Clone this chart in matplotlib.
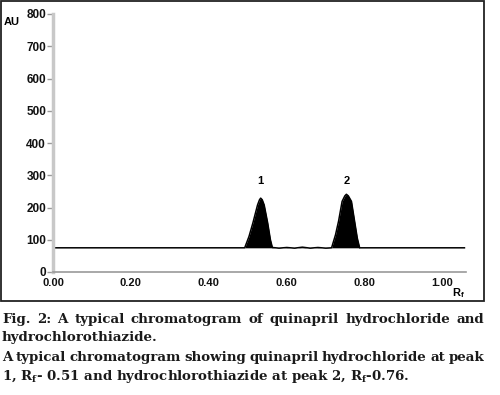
import matplotlib

matplotlib.use("Agg")

import matplotlib.pyplot as plt
from matplotlib.patches import Rectangle

# densitogram trace (Rf, AU)
rf = [0.00, 0.492, 0.503, 0.513, 0.525, 0.530, 0.533, 0.537, 0.542, 0.551, 0.558, 0.563,
      0.58, 0.60, 0.62, 0.64, 0.66, 0.68, 0.70,
      0.715, 0.725, 0.733, 0.742, 0.749, 0.753, 0.758, 0.766, 0.774, 0.781, 0.787,
      1.056]
au = [75, 75, 110, 152, 208, 224, 229, 224, 208, 152, 100, 76,
      74, 76, 74, 77, 74, 76, 74,
      75, 115, 158, 219, 236, 241, 236, 219, 158, 105, 75,
      75]
baseline = 75

peak_labels = ["1", "2"]
peak_rf = [0.533, 0.753]
label_au = 282

x_ticks = [0.0, 0.2, 0.4, 0.6, 0.8, 1.0]
y_ticks = [0, 100, 200, 300, 400, 500, 600, 700, 800]

# caption lines: (text, baseline y in figure fraction, justified?)
caption = [
    ("Fig. 2: A typical chromatogram of quinapril hydrochloride and", 0.191, True),
    ("hydrochlorothiazide.", 0.146, False),
    ("A typical chromatogram showing quinapril hydrochloride at peak", 0.094, True),
    ("1, R$_\\mathregular{f}$- 0.51 and hydrochlorothiazide at peak 2, R$_\\mathregular{f}$-0.76.", 0.046, False),
]
cap_font = dict(fontsize=9.6, fontweight="bold", family="DejaVu Serif", va="center",
                color="#1a1a1a")

fig = plt.figure(figsize=(5.0, 3.95), dpi=100)
W, H = 500, 395

# frame around the chart panel
fig.patches.append(Rectangle((1 / W, 1 - 301 / H), 483 / W, 300 / H, transform=fig.transFigure,
                             fill=False, edgecolor="#222222", linewidth=1.3))

ax = fig.add_axes([53 / W, 1 - 272 / H, 413 / W, 258 / H])
ax.set_xlim(0, 1.06)
ax.set_ylim(0, 800)

ax.fill_between(rf, baseline, au, color="black", linewidth=0)
ax.plot(rf, au, color="black", linewidth=1.1)

for lab, x in zip(peak_labels, peak_rf):
    ax.text(x, label_au, lab, ha="center", va="center", fontsize=8, fontweight="bold",
            family="Liberation Sans")

for side in ["top", "right"]:
    ax.spines[side].set_visible(False)
ax.spines["left"].set_color("#c8c8c8")
ax.spines["left"].set_linewidth(2.5)
ax.spines["bottom"].set_color("#9a9a9a")
ax.spines["bottom"].set_linewidth(1.2)

ax.set_xticks(x_ticks)
ax.set_xticklabels([f"{v:.2f}" for v in x_ticks])
ax.set_yticks(y_ticks)
ax.tick_params(axis="y", length=4, width=1, color="#9a9a9a", pad=1)
ax.tick_params(axis="x", length=0, pad=4)
for lbl in ax.get_xticklabels():
    lbl.set_fontsize(8)
for lbl in ax.get_yticklabels():
    lbl.set_fontsize(8.5)
for lbl in ax.get_xticklabels() + ax.get_yticklabels():
    lbl.set_fontweight("bold")
    lbl.set_family("Liberation Sans")
    lbl.set_color("#111111")

fig.text(4 / W, 1 - 22 / H, "AU", fontsize=8, fontweight="bold", family="Liberation Sans",
         va="center")
fig.text(452 / W, 1 - 293 / H, "R$_\\mathregular{f}$", fontsize=8, fontweight="bold",
         family="Liberation Sans", va="center")

# caption, first and third line spread to the full panel width
renderer = fig.canvas.get_renderer()
x0, x1 = 2 / W, 484 / W
for line, y, justify in caption:
    if not justify:
        fig.text(x0, y, line, **cap_font)
        continue
    words = line.split()
    widths = []
    for w in words:
        t = fig.text(0, 0, w, **cap_font)
        widths.append(t.get_window_extent(renderer).width / W)
        t.remove()
    gap = (x1 - x0 - sum(widths)) / (len(words) - 1)
    x = x0
    for w, wd in zip(words, widths):
        fig.text(x, y, w, **cap_font)
        x += wd + gap

fig.savefig("out.png", dpi=100)
